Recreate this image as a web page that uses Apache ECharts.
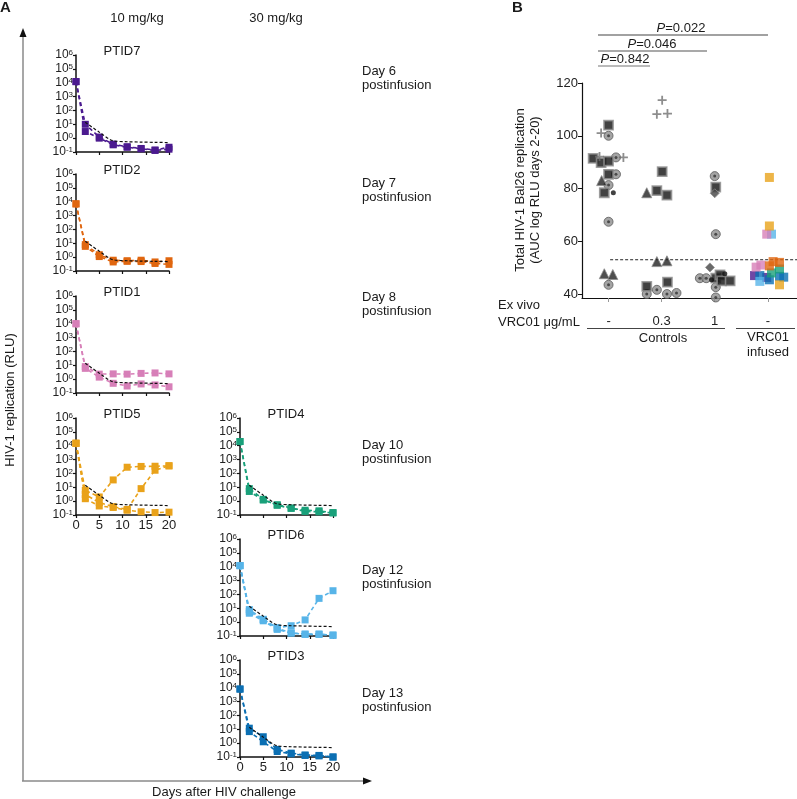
<!DOCTYPE html>
<html>
<head>
<meta charset="utf-8">
<script src="https://cdn.jsdelivr.net/npm/echarts@6/dist/echarts.min.js"></script>
<style>
  html, body { margin: 0; padding: 0; background: #fff; }
  #chart { width: 797px; height: 799px; }
</style>
</head>
<body>
<div id="chart"></div>
<script>
// ---------- panel A data ----------
const days = [0, 2, 5, 8, 11, 14, 17, 20]
const refDays = [2, 5, 8, 11, 14, 17, 20]
const controlMean = [14, 2.7, 0.65, 0.55, 0.52, 0.5, 0.48]

const ptidNames = ['PTID7', 'PTID2', 'PTID1', 'PTID5', 'PTID4', 'PTID6', 'PTID3']
const ptidColors = ['#4b1a8f', '#e0660f', '#d77fb8', '#e9a21a', '#19a07a', '#57b4e8', '#0b6fb3']

const ptid7 = [
  [12000, 10, 1.2, 0.37, 0.24, 0.18, 0.14, 0.22],
  [12000, 3, 1.0, 0.33, 0.22, 0.17, 0.13, 0.16],
]
const ptid2 = [
  [7000, 8, 1.5, 0.6, 0.55, 0.6, 0.45, 0.55],
  [7000, 6, 1.1, 0.45, 0.5, 0.48, 0.35, 0.3],
]
const ptid1 = [
  [10000, 8, 2.3, 2.4, 2.3, 2.6, 2.8, 2.4],
  [10000, 6, 1.4, 0.5, 0.32, 0.45, 0.38, 0.28],
]
const ptid5 = [
  [15000, 6, 2, 34, 280, 320, 330, 350],
  [15000, 3, 0.8, 0.4, 0.25, 8, 170, 360],
  [15000, 1.5, 0.45, 0.35, 0.22, 0.17, 0.15, 0.16],
]
const ptid4 = [
  [20000, 8, 1.35, 0.5, 0.3, 0.22, 0.2, 0.15],
  [20000, 5, 1.2, 0.55, 0.32, 0.18, 0.17, 0.14],
]
const ptid6 = [
  [12000, 8, 1.6, 0.4, 0.55, 1.45, 52, 185],
  [12000, 4.4, 1.25, 0.3, 0.16, 0.14, 0.14, 0.11],
  [12000, 6, 1.5, 0.35, 0.17, 0.13, 0.13, 0.12],
]
const ptid3 = [
  [8000, 12, 2.9, 0.35, 0.19, 0.14, 0.13, 0.1],
  [8000, 6.8, 1.25, 0.25, 0.17, 0.13, 0.12, 0.1],
]
const ptidReps = [ptid7, ptid2, ptid1, ptid5, ptid4, ptid6, ptid3]

const dayLabels = ['Day 6', 'Day 7', 'Day 8', 'Day 10', 'Day 12', 'Day 13']

// ---------- panel B data ([x = group + jitter, AUC]) ----------
const doseLabels = ['-', '0.3', '1', '-']
const cutoff = 53

const ctrlSquares = [[-0.29, 91.4], [-0.14, 89.8], [0, 90.4], [0, 104], [0, 85.4], [-0.08, 78.4],
  [1.01, 86.4], [0.91, 79.2], [1.1, 77.5], [0.72, 42.9], [1.11, 44.5],
  [2.02, 80.5], [2.02, 46], [2.1, 47.3], [2.13, 45], [2.29, 45]]
const ctrlCircles = [[0, 100], [0.14, 91.8], [0.14, 85.4], [0, 81.3], [0, 67.4], [0, 43.5],
  [0.72, 40], [0.91, 41.6], [1.1, 40], [1.28, 40.4],
  [2.0, 84.7], [2.02, 62.7], [1.72, 46], [1.84, 46], [2.02, 42.6], [2.02, 38.7]]
const ctrlPlus = [[-0.14, 101], [-0.17, 92.1], [0.28, 91.8], [1.01, 113.5], [0.91, 108.2], [1.11, 108.4]]
const ctrlTriangles = [[-0.13, 83.0], [-0.08, 47.7], [0.08, 47.4], [0.72, 78.4], [0.91, 52.3], [1.1, 52.6]]
const ctrlDiamonds = [[2.0, 78.2], [1.91, 50.1]]
const ctrlDots = [[0.09, 78.4], [1.94, 45.4], [2.19, 47.7]]

const infGold = [[3.03, 84.2], [3.03, 65.8], [3.22, 43.5]]
const infPink = [[2.98, 62.7], [2.78, 50.2], [2.87, 51]]
const infLightBlue = [[3.07, 62.7], [2.85, 44.8]]
const infOrange = [[3.1, 52.3], [3.22, 52], [3.03, 50.7]]
const infGreen = [[3.22, 49.5], [3.07, 48]]
const infPurple = [[2.75, 47], [2.98, 46.3]]
const infBlue = [[2.85, 47], [3.03, 45.4], [3.22, 46.7], [3.3, 46.4]]

const pValues = ['0.022', '0.046', '0.842']

// ---------- layout ----------
const FONT = 'Liberation Sans, Arial, sans-serif'
const gridPos = [[76, 55], [76, 174], [76, 296], [76, 418], [240, 418], [240, 539], [240, 660]]
const showXLabels = [false, false, false, true, false, false, true]
const dayLabelTop = [64, 176, 290, 438, 563, 686]

const grids = []
const xAxes = []
const yAxes = []
const series = []

gridPos.forEach((p, i) => {
  grids.push({ left: p[0], top: p[1], width: 93, height: 97 })
  xAxes.push({
    type: 'value', gridIndex: i, min: 0, max: 20, interval: 5,
    axisLine: { onZero: false, lineStyle: { color: '#111', width: 1.5 } },
    axisTick: { length: 3, lineStyle: { color: '#111', width: 1.2 } },
    axisLabel: { show: showXLabels[i], color: '#222', fontSize: 13, margin: 4, fontFamily: FONT },
    splitLine: { show: false },
  })
  yAxes.push({
    type: 'log', logBase: 10, gridIndex: i, min: 0.1, max: 1e6,
    axisLine: { onZero: false, lineStyle: { color: '#111', width: 1.5 } },
    axisTick: { length: 3, lineStyle: { color: '#111', width: 1.2 } },
    axisLabel: {
      color: '#222', fontSize: 12, margin: 3, fontFamily: FONT, lineHeight: 12,
      formatter: v => '10{s|' + Math.round(Math.log10(v)) + '}',
      rich: { s: { fontSize: 8, verticalAlign: 'top', lineHeight: 8, fontFamily: FONT, color: '#222' } },
    },
    splitLine: { show: false },
  })
  ptidReps[i].forEach(rep => {
    series.push({
      type: 'line', xAxisIndex: i, yAxisIndex: i,
      data: days.map((d, k) => [d, rep[k]]),
      symbol: 'rect', symbolSize: 7,
      lineStyle: { color: ptidColors[i], width: 1.6, type: [4, 3] },
      itemStyle: { color: ptidColors[i] },
      z: 2,
    })
  })
  series.push({
    type: 'line', xAxisIndex: i, yAxisIndex: i,
    data: refDays.map((d, k) => [d, controlMean[k]]),
    symbol: 'none', smooth: 0.3,
    lineStyle: { color: '#111', width: 1.2, type: [3, 2] },
    z: 3,
  })
})

// panel B
const bi = gridPos.length
grids.push({ left: 582, top: 83, width: 215, height: 215 })
xAxes.push({
  type: 'value', gridIndex: bi, min: -0.5, max: 3.55,
  axisLine: { onZero: false, lineStyle: { color: '#111', width: 1.2 } },
  axisTick: { customValues: [0, 1, 2, 3], length: 4, lineStyle: { color: '#999' } },
  axisLabel: {
    customValues: [0, 1, 2, 3], formatter: v => doseLabels[Math.round(v)],
    color: '#222', fontSize: 13, margin: 17, fontFamily: FONT,
  },
  splitLine: { show: false },
})
yAxes.push({
  type: 'value', gridIndex: bi, min: 38.5, max: 120,
  axisLine: { onZero: false, lineStyle: { color: '#111', width: 1.2 } },
  axisTick: { customValues: [40, 60, 80, 100, 120], length: 4, lineStyle: { color: '#111' } },
  axisLabel: { customValues: [40, 60, 80, 100, 120], color: '#222', fontSize: 13, margin: 4, fontFamily: FONT },
  splitLine: { show: false },
})

const scat = (data, symbol, size, style) => ({
  type: 'scatter', xAxisIndex: bi, yAxisIndex: bi, data, symbol, symbolSize: size,
  itemStyle: style, clip: false, z: 3,
})
series.push(
  {
    type: 'line', xAxisIndex: bi, yAxisIndex: bi, data: [[0.03, cutoff], [3.55, cutoff]],
    symbol: 'none', lineStyle: { color: '#222', width: 1, type: [3, 2] }, z: 1,
  },
  scat(ctrlCircles, 'circle', 9, { color: '#8d8d8d', borderColor: '#5a5a5a', borderWidth: 1 }),
  scat(ctrlCircles, 'circle', 3, { color: '#333' }),
  scat(ctrlSquares, 'rect', 9, { color: '#111', borderColor: '#8c8c8c', borderWidth: 1.8 }),
  scat(ctrlTriangles, 'triangle', 10, { color: '#222', borderColor: '#8c8c8c', borderWidth: 1 }),
  scat(ctrlDiamonds, 'diamond', 9, { color: '#444', borderColor: '#8c8c8c', borderWidth: 1 }),
  scat(ctrlDots, 'circle', 5, { color: '#111' }),
  scat(ctrlPlus, 'path://M4,0H6V4H10V6H6V10H4V6H0V4H4Z', 9, { color: '#707070' }),
  scat(infPurple, 'rect', 9, { color: '#4b1a8f' }),
  scat(infBlue, 'rect', 9, { color: '#0b6fb3' }),
  scat(infLightBlue, 'rect', 9, { color: '#57b4e8' }),
  scat(infGreen, 'rect', 9, { color: '#19a07a' }),
  scat(infPink, 'rect', 9, { color: '#d77fb8' }),
  scat(infOrange, 'rect', 9, { color: '#e0660f' }),
  scat(infGold, 'rect', 9, { color: '#e9a21a' }),
)

// ---------- annotations ----------
const txt = (text, x, y, opts = {}) => ({
  type: 'text', x, y, rotation: opts.rotation || 0,
  style: {
    text, font: (opts.weight || 'normal') + ' ' + (opts.size || 13) + 'px ' + FONT,
    fill: '#1a1a1a', align: opts.align || 'center', textAlign: opts.align || 'center',
    verticalAlign: opts.va || 'middle', textVerticalAlign: opts.va || 'middle',
    lineHeight: opts.lh, rich: opts.rich,
  },
})
const line = (x1, y1, x2, y2, color, w) => ({
  type: 'line', shape: { x1, y1, x2, y2 }, style: { stroke: color, lineWidth: w },
})

const graphics = [
  txt('A', 0, 8, { size: 15, weight: 'bold', align: 'left' }),
  txt('B', 512, 8, { size: 15, weight: 'bold', align: 'left' }),
  txt('10 mg/kg', 137, 18),
  txt('30 mg/kg', 276, 18),
  line(23, 781, 23, 36, '#8a8a8a', 1.5),
  { type: 'polygon', shape: { points: [[23, 28], [19.5, 37], [26.5, 37]] }, style: { fill: '#111' } },
  line(22, 781, 364, 781, '#8a8a8a', 1.5),
  { type: 'polygon', shape: { points: [[372, 781], [363, 777.5], [363, 784.5]] }, style: { fill: '#111' } },
  txt('HIV-1 replication (RLU)', 10, 400, { rotation: Math.PI / 2 }),
  txt('Days after HIV challenge', 224, 792),
  // panel B texts
  txt('Total HIV-1 Bal26 replication\n(AUC log RLU days 2-20)', 528, 190, { rotation: Math.PI / 2, lh: 15 }),
  txt('Ex vivo', 498, 305, { align: 'left' }),
  txt('VRC01 \u03bcg/mL', 498, 322, { align: 'left' }),
  line(587, 328.5, 725, 328.5, '#444', 1),
  line(736, 328.5, 795, 328.5, '#444', 1),
  txt('Controls', 663, 338),
  txt('VRC01\ninfused', 768, 345, { lh: 15 }),
  line(598, 35, 768, 35, '#444', 1.2),
  line(598, 51, 707, 51, '#555', 1.2),
  line(598, 66, 650, 66, '#777', 1.2),
]
const pPos = [[681, 28], [652, 44], [625, 59]]
pValues.forEach((p, i) => {
  graphics.push(txt('{i|P}=' + p, pPos[i][0], pPos[i][1], {
    rich: { i: { fontStyle: 'italic', fontSize: 13, fontFamily: FONT, fill: '#1a1a1a' } },
  }))
})
ptidNames.forEach((n, i) => {
  graphics.push(txt(n, gridPos[i][0] + 46, gridPos[i][1] - 4))
})
dayLabels.forEach((d, i) => {
  graphics.push(txt(d + '\npostinfusion', 362, dayLabelTop[i], { align: 'left', va: 'top', lh: 14 }))
})

const chart = echarts.init(document.getElementById('chart'))
chart.setOption({
  animation: false,
  grid: grids,
  xAxis: xAxes,
  yAxis: yAxes,
  series,
  graphic: { elements: graphics },
})
</script>
</body>
</html>
